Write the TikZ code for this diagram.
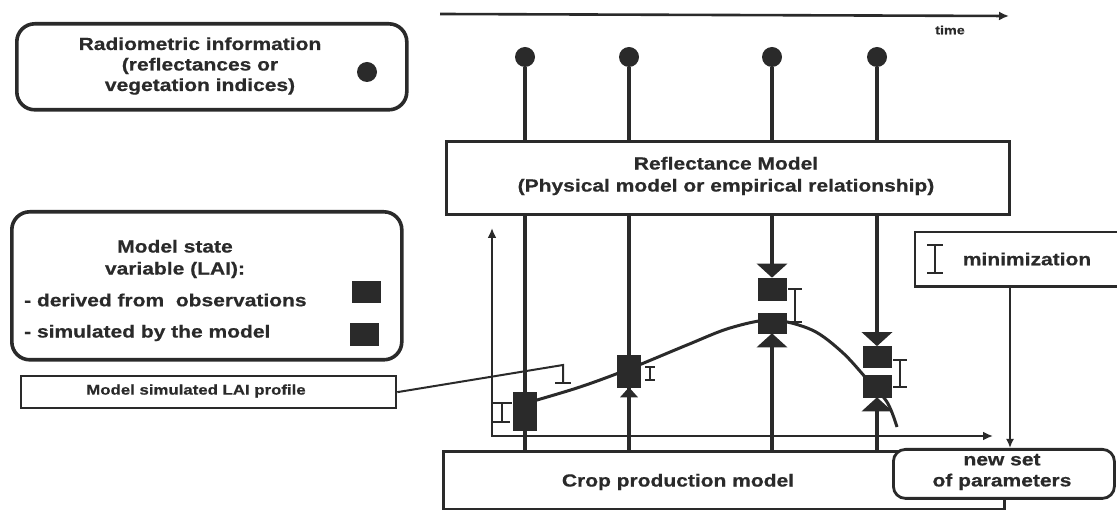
\documentclass[tikz,border=0pt]{standalone}
\usepackage{fontspec}
\newfontfamily\lab{Liberation Sans}[FakeStretch=1.2]
\newfontfamily\labh{Liberation Sans Bold}[FakeStretch=1.2,FakeBold=0.6]
\usetikzlibrary{arrows.meta}
\definecolor{ink}{HTML}{2A2A2A}
\newcommand\errbar[4]{\draw[ibarst] (#1-#4,#2) -- (#1+#4,#2) (#1,#2) -- (#1,#3) (#1-#4,#3) -- (#1+#4,#3);}
\begin{document}
\begin{tikzpicture}[x=1pt,y=-1pt,
  every node/.style={font=\labh\fontsize{17.5}{21}\selectfont, text=ink, inner sep=0pt},
  rbox/.style={draw=ink, line width=3.6pt, rounded corners=18pt, fill=white},
  sbox/.style={draw=ink, line width=2.8pt, fill=white},
  conn/.style={draw=ink, line width=3.2pt},
  thinc/.style={draw=ink, line width=2.2pt},
  ibarst/.style={draw=ink, line width=2.2pt},
  lsq/.style={fill=ink, draw=ink, line width=0.6pt},
  dot/.style={circle, fill=ink, minimum size=20pt},
  bigtip/.style={-{Triangle[length=14pt,width=30pt]}},
  smalltip/.style={-{Latex[length=10pt,width=9pt]}}
]
\useasboundingbox (0,0) rectangle (1117,510);

% time axis
\coordinate (t0) at (440,14);
\coordinate (t1) at (1009,16);
\draw[thinc, line width=2.6pt, smalltip] (t0) -- (t1);
\node[font=\labh\fontsize{12}{14}\selectfont] (time) at (950,30) {time};

% Radiometric legend
\node[rbox, anchor=north west, minimum width=390pt, minimum height=86pt] (radio) at (15,22) {};
\node[align=center, font=\labh\fontsize{17.5}{20.5}\selectfont] (radiotext) at (200,66) {Radiometric information\\(reflectances or\\vegetation indices)};
\node[dot] (legdot) at (367,72) {};

% Model state legend
\node[rbox, anchor=north west, minimum width=390pt, minimum height=148pt] (state) at (10,210) {};
\node[align=center, font=\labh\fontsize{17.5}{22}\selectfont] (st1) at (175,259) {Model state\\variable (LAI):};
\node[anchor=west] (st2) at (24,300) {- derived from\ \ observations};
\node[anchor=west] (st3) at (24,333) {- simulated by the model};
\node[lsq, minimum width=28pt, minimum height=21pt] (legobs) at (366,292) {};
\node[lsq, minimum width=28pt, minimum height=22pt] (legsim) at (364,334) {};

% LAI profile label
\node[sbox, line width=2.3pt, anchor=north west, minimum width=375pt, minimum height=32pt] (laibox) at (20,375) {};
\node[font=\labh\fontsize{14}{16}\selectfont] (laitext) at (196,391) {Model simulated LAI profile};

% Reflectance model
\node[sbox, line width=3pt, anchor=north west, minimum width=563pt, minimum height=73pt] (refl) at (445,140) {};
\node[align=center, font=\labh\fontsize{17.5}{22}\selectfont] (refltext) at (726,176) {Reflectance Model\\(Physical model or empirical relationship)};

% Crop production model
\node[sbox, line width=3pt, anchor=north west, minimum width=561pt, minimum height=58pt] (crop) at (442,450) {};
\node (croptext) at (678,482) {Crop production model};

% observation dots
\node[dot] (d1) at (525,57) {};
\node[dot] (d2) at (629,57) {};
\node[dot] (d3) at (772,57) {};
\node[dot] (d4) at (877,57) {};
\foreach \d in {d1,d2,d3,d4} \draw[conn] (\d) -- (\d |- refl.north);

% LAI profile curve
\draw[conn, line width=3pt] plot[smooth, tension=0.55] coordinates
  {(530,402) (580,387) (629,369) (687,345) (730,328) (772,320) (812,330) (842,352) (866,378) (887,402) (897,427)};

% LAI squares
\node[lsq, minimum width=23pt, minimum height=38pt] (sq1) at (525,411) {};
\node[lsq, minimum width=23pt, minimum height=32pt] (sq2) at (629,371) {};
\node[lsq, minimum width=28pt, minimum height=22pt] (sq3o) at (772,289) {};
\node[lsq, minimum width=28pt, minimum height=20pt] (sq3s) at (772,323) {};
\node[lsq, minimum width=28pt, minimum height=21pt] (sq4o) at (877,357) {};
\node[lsq, minimum width=28pt, minimum height=22pt] (sq4s) at (877,386) {};

% vertical connectors
\draw[conn] (refl.south -| sq1) -- (sq1.north);
\draw[conn] (sq1.south) -- (sq1.south |- crop.north);
\draw[conn] (refl.south -| sq2) -- (sq2.north);
\draw[conn] (sq2 |- crop.north) -- (sq2.south);
\fill[ink] (sq2.south) -- ++(-9,10) -- ++(18,0) -- cycle;
\draw[conn, bigtip] (refl.south -| sq3o) -- (sq3o.north);
\draw[conn, bigtip] (crop.north -| sq3s) -- (sq3s.south);
\draw[conn, bigtip] (refl.south -| sq4o) -- (sq4o.north);
\draw[conn, bigtip] (crop.north -| sq4s) -- (sq4s.south);

% iteration arrows
\coordinate (la) at (492,228);
\coordinate (ha) at (993,436);
\draw[thinc, {Latex[length=10pt,width=9pt]}-{Latex[length=10pt,width=9pt]}] (la) |- (ha);

% label connector and error bars
\coordinate (lc) at (563,365);
\draw[thinc, line width=2pt] (laibox.east) -- (lc) -- ++(0,18);
\draw[ibarst] (555,383) -- (571,383);
\draw[ibarst] (492,403) -- (512,403) (502,403) -- (502,422) (492,422) -- (510,422);
\errbar{650}{367}{380}{5}
\errbar{795}{289}{322}{7}
\errbar{900}{360}{387}{7}

% minimization
\node[anchor=north west, minimum width=205pt, minimum height=54pt] (mini) at (915,232) {};
\draw[draw=ink, line width=2.6pt] (mini.north east) -- (mini.north west) -- (mini.south west) -- (mini.south east);
\begin{scope}[ibarst/.style={draw=ink, line width=1.8pt}]
\errbar{935}{245}{273}{8}
\end{scope}
\node (minitext) at (1027,259) {minimization};

% new set of parameters
\node[rbox, line width=2.8pt, rounded corners=12pt, anchor=north west, minimum width=221pt, minimum height=49pt] (newset) at (892,448) {};
\node[align=center, font=\labh\fontsize{17.5}{21}\selectfont] (newtext) at (1002,472) {new set\\of parameters};
\coordinate (m1) at (1010,286);
\coordinate (m2) at (1010,448);
\draw[thinc, -{Latex[length=9pt,width=8pt]}] (m1) -- (m2);
\end{tikzpicture}
\end{document}
